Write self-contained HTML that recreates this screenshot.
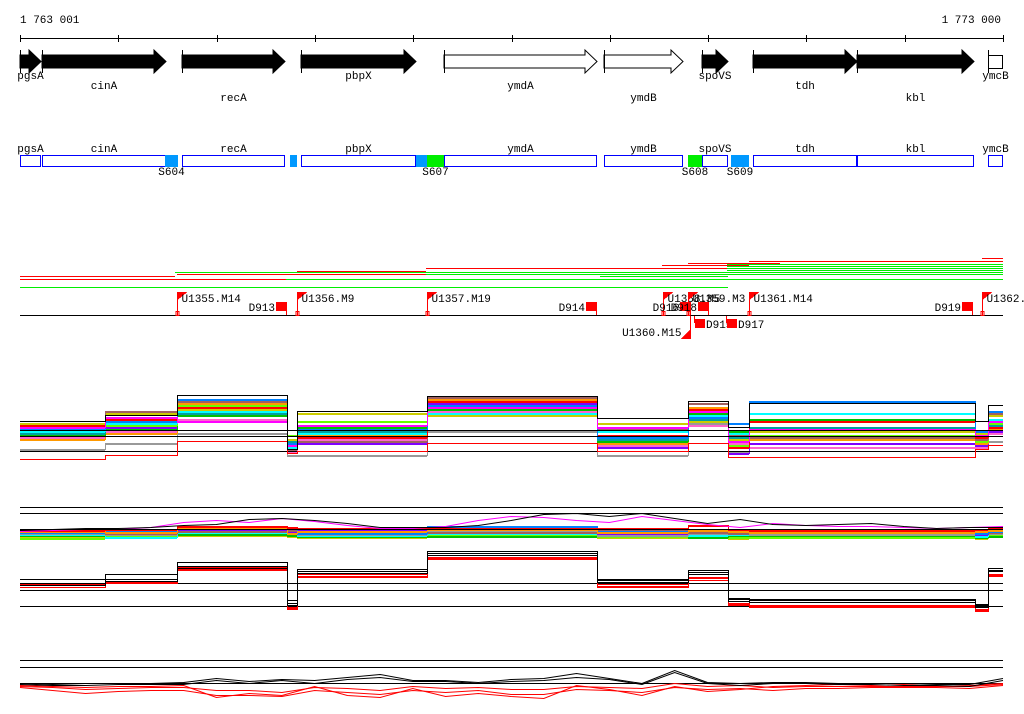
<!DOCTYPE html>
<html><head><meta charset="utf-8"><title>Genome browser</title>
<style>
html,body{margin:0;padding:0;background:#fff;}
svg{display:block;}
text{font-family:"Liberation Mono","DejaVu Sans Mono",monospace;font-size:11px;fill:#000;}
</style></head>
<body>
<svg id="chart" width="1024" height="714" viewBox="0 0 1024 714" shape-rendering="crispEdges">
<text x="20" y="23">1 763 001</text>
<text x="1001" y="23" text-anchor="end">1 773 000</text>
<g id="axis"></g>
<g id="genes"></g>
<g id="genes2"></g>
<g id="tiling"></g>
<g id="markers"></g>
<g id="p1"></g>
<g id="p2"></g>
<g id="p3"></g>
<g id="p4"></g>
</svg>
<script>
const NS="http://www.w3.org/2000/svg";
const X0=20,X1=1003,BP0=1763001,BP1=1773000;
function xs(bp){return X0+(bp-BP0)/(BP1-BP0)*(X1-X0);}
function mk(parent,tag,attrs){const e=document.createElementNS(NS,tag);for(const k in attrs)e.setAttribute(k,attrs[k]);parent.appendChild(e);return e;}

// ---- data ----
const tickPositions=[1763001,1764001,1765001,1766001,1767001,1768001,1769001,1770001,1771001,1772001,1773000];
const geneNames=["pgsA","cinA","recA","pbpX","ymdA","ymdB","spoVS","tdh","kbl","ymcB"];
const geneStarts=[1763001,1763225,1764649,1765859,1767314,1768941,1769938,1770457,1771515,1772848];
const geneEnds=[1763215,1764486,1765697,1767029,1768870,1769745,1770203,1771515,1772705,1773000];
const geneFilled=[1,1,1,1,0,0,1,1,1,0];
const geneLabelRow=[0,1,2,0,1,2,0,1,2,0];
const segNames=["S604","S607","S608","S609"];
const segStarts=[1764476,1767141,1769796,1770233];
const segEnds=[1764608,1767314,1769938,1770416];
const segColors=["#0099ff","#00ee00","#00ee00","#0099ff"];

const markNames=["U1355.M14","U1356.M9","U1357.M19","U1358.M5","U1359.M3","U1361.M14","U1362.M1","U1360.M15"];
const markPos=[1764598,1765819,1767141,1769541,1769796,1770416,1772786,1769816];
const markBelow=[0,0,0,0,0,0,0,1];
const delNames=["D913","D914","D919","D916","D918","D915","D917"];
const delPos=[1765707,1768860,1772685,1769816,1770000,1769857,1770182];
const delBelow=[0,0,0,0,0,1,1];

const segBreaks=[1763001,1763866,1764598,1765717,1765819,1767141,1768870,1769796,1770203,1770416,1772715,1772847,1773000];
const p1Black=[1.5,1.8,2.8,0.1,2.0,2.75,1.65,2.5,1.2,2.4,1.5,2.3];
const p1Red=[-0.4,-0.2,0.5,-0.1,0,0.4,0,0.4,-0.3,-0.3,0.1,0.3];
const p1Gray=[0.1,0.4,0.9,-0.2,-0.2,1.0,-0.2,1.4,0.0,0.2,0.3,0.5];
const p1Magenta=[1.2,1.7,1.5,0.3,1.3,2.2,1.2,2.0,0.5,1.1,0.8,1.5];
const p1Lime=[0.9,1.3,2.3,0.8,1.5,2.5,0.6,1.6,0.3,0.8,0.5,1.4];
const p1Cyan=[1.0,1.4,2.0,0.2,0.9,1.9,1.0,1.8,0.9,1.9,0.6,1.6];
const p1Orange=[0.6,0.9,2.4,0.5,0.8,2.6,0.4,2.2,0.5,0.6,0.4,1.1];
const p1Blue=[1.1,1.5,2.6,0.4,1.1,2.3,0.7,1.7,1.4,2.5,1.0,2.0];
const p1Red2=[1.3,1.6,2.2,0.3,0.7,2.5,0.8,2.1,0.2,1.5,0.7,1.2];
const p1Yellow=[1.4,1.9,2.1,0.6,1.9,1.8,1.4,1.5,0.6,1.0,0.9,1.8];
const p1Brown=[1.2,2.0,2.5,0.1,0.5,2.7,1.1,2.4,0.8,0.7,0.6,1.9];
const p1Green=[0.8,1.1,1.8,0.4,1.2,2.1,0.5,1.9,1.0,1.6,0.5,1.3];
const p1Pink=[0.7,1.0,1.6,0.0,0.6,2.0,0.3,1.3,0.4,0.2,0.2,0.9];
const p1Purple=[1.0,1.2,2.3,0.2,0.4,2.4,0.2,1.8,-0.1,0.4,0.3,1.0];
const p1Teal=[0.9,1.6,1.9,0.5,1.0,2.2,0.6,1.6,0.7,1.2,0.6,1.3];

const fineBreaks=[1763001,1763334,1763667,1764000,1764333,1764666,1764999,1765332,1765665,1765998,1766331,1766664,1766997,1767330,1767663,1767996,1768329,1768662,1768995,1769328,1769661,1769994,1770327,1770660,1770993,1771326,1771659,1771992,1772325,1772658,1773000];
const p2Black=[-0.1,0,0.1,0.1,0.2,0.4,0.5,1.0,1.1,0.9,0.6,0.2,0.2,0.2,0.4,0.9,1.5,1.6,1.3,1.6,1.1,0.6,1.0,0.5,0.4,0.5,0.6,0.3,0.1,0.2,0.2];
const p2Magenta=[-0.2,-0.1,0,0,0.2,0.7,0.9,0.7,1.1,0.8,0.4,0.1,0.1,0.3,0.9,1.3,1.2,0.9,0.7,1.3,0.9,0.5,0.2,0.6,0.4,0.3,0.3,0.2,0.1,0.2,0.3];
const p2Lime=[-0.9,-0.6,-0.4,-0.5,-0.3,-0.6,-0.7,-0.3,-0.8,-0.8,-0.6,-0.5];
const p2Cyan=[-0.5,-0.8,-0.3,-0.2,-0.6,-0.4,-0.5,-0.6,-0.5,-0.4,-0.7,-0.3];
const p2Orange=[-0.2,-0.3,0.1,-0.4,-0.2,0.0,-0.3,-0.1,-0.2,-0.3,-0.2,-0.1];
const p2Blue=[-0.3,-0.2,0.2,0.1,-0.4,0.3,-0.2,0.0,-0.1,-0.2,-0.4,-0.2];
const p2Red=[-0.1,0.0,0.3,0.2,0.1,0.1,0.1,0.4,0.0,-0.1,0.0,0.1];
const p2Gray=[-0.4,-0.5,-0.1,-0.3,-0.5,-0.2,-0.6,-0.4,-0.3,-0.5,-0.3,-0.4];
const p2Yellow=[-0.8,-0.7,-0.6,-0.7,-0.8,-0.5,-0.8,-0.7,-0.9,-0.7,-0.9,-0.6];
const p2Brown=[-0.2,-0.4,-0.2,-0.1,-0.3,-0.3,-0.1,-0.3,-0.4,-0.2,-0.1,-0.3];
const p2Green=[-0.6,-0.5,-0.5,-0.6,-0.7,-0.7,-0.4,-0.8,-0.6,-0.6,-0.8,-0.7];
const p2Purple=[-0.3,-0.1,0.0,-0.2,-0.1,0.2,-0.4,-0.2,-0.3,-0.1,-0.5,0.0];

const p3BlackA=[2.7,3.2,4.4,0.1,3.7,5.5,2.7,3.6,0.7,0.6,-0.1,3.8];
const p3BlackB=[2.3,2.7,4.0,0.3,3.3,5.1,2.4,3.2,0.5,0.4,0.1,3.5];
const p3BlackC=[2.1,2.5,3.8,0.6,3.5,5.3,2.6,3.4,0.8,0.7,0.2,3.6];
const p3RedA=[2.2,2.5,3.9,-0.1,3.2,4.9,2.2,2.9,0.3,0.1,-0.3,3.2];
const p3RedB=[2.1,2.4,3.7,-0.2,3.0,4.8,2.0,2.6,0.1,0.0,-0.4,3.1];
const p3RedC=[1.9,2.3,3.6,-0.3,2.9,4.7,1.9,2.8,0.2,-0.1,-0.5,3.0];

const p4BlackA=[-0.1,-0.2,-0.2,-0.1,-0.1,-0.1,0.3,0,0.3,0,0.4,0.6,0.2,0.2,0,0.2,0.3,0.6,0.4,-0.1,1.1,0,-0.2,0,0,-0.1,-0.1,-0.2,-0.2,-0.3,0.3];
const p4BlackB=[0,-0.1,0,0,0,0.1,0.5,0.2,0.4,0.3,0.6,0.9,0.3,0.3,0.1,0.4,0.5,1.0,0.5,0,1.3,0.1,0,0.1,0.1,0,0,0,-0.1,-0.1,0.5];
const p4RedA=[-0.4,-0.7,-1.0,-0.8,-0.7,-0.7,-1.2,-1.2,-1.3,-0.7,-0.9,-1.1,-0.7,-0.9,-0.7,-1.1,-1.1,-0.6,-0.7,-0.9,-0.4,-0.6,-0.5,-0.7,-0.5,-0.5,-0.4,-0.4,-0.4,-0.5,-0.2];
const p4RedB=[-0.3,-0.4,-0.6,-0.5,-0.4,-0.4,-0.7,-0.7,-0.9,-0.4,-0.5,-0.7,-0.3,-0.5,-0.4,-0.6,-0.6,-0.3,-0.4,-0.5,0,-0.3,-0.2,-0.4,-0.3,-0.3,-0.3,-0.3,-0.3,-0.3,-0.1];
const p4RedC=[-0.2,-0.3,-0.4,-0.3,-0.3,-0.2,-1.4,-1.0,-1.2,-0.3,-1.2,-1.4,-0.5,-1.3,-1.0,-1.3,-1.5,-0.2,-0.6,-1.2,-0.3,-0.8,-0.6,-0.3,-0.2,-0.1,-0.2,-0.1,-0.3,-0.2,0];

// ---- axis ----
const ax=document.getElementById('axis');
const axl=mk(ax,'line',{x1:X0,y1:38.5,x2:X1+1,y2:38.5,stroke:'#000'});


tickPositions.forEach(function(t){
  const l=mk(ax,'line',{x1:Math.round(xs(t))+0.5,y1:35,x2:Math.round(xs(t))+0.5,y2:42,stroke:'#000'});
  
  
});

// ---- genes ----
const gg=document.getElementById('genes');
const labelY=[79,89,101];
geneNames.forEach(function(n,i){
  const a=Math.round(xs(geneStarts[i])),b=Math.round(xs(geneEnds[i]));
  const g=mk(gg,'g',{});
  
  
  const hl=Math.min(12,b-a);
  if(n==="ymcB"){
    mk(g,'rect',{x:a+0.5,y:55.5,width:b-a-1,height:13,fill:'#fff',stroke:'#000'});
  } else {
    const pts=[[a,55],[b-hl,55],[b-hl,50],[b,61.5],[b-hl,73],[b-hl,68],[a,68]].map(p=>p[0]+','+p[1]).join(' ');
    mk(g,'polygon',{points:pts,fill:geneFilled[i]?'#000':'#fff',stroke:'#000','stroke-width':1,'shape-rendering':'auto'});
  }
  mk(g,'line',{x1:a+0.5,y1:50,x2:a+0.5,y2:73,stroke:'#000'});
  const t=mk(g,'text',{x:(a+b)/2,y:labelY[geneLabelRow[i]],'text-anchor':'middle'});
  t.textContent=n;
});

// ---- segment track ----
const g2=document.getElementById('genes2');
geneNames.forEach(function(n,i){
  const a=Math.round(xs(geneStarts[i])),b=Math.round(xs(geneEnds[i]));
  const r=mk(g2,'rect',{x:a+0.5,y:155.5,width:b-a-1,height:11,fill:'#fff',stroke:'#0000ff'});
  
  
  const t=mk(g2,'text',{x:(a+b)/2,y:152,'text-anchor':'middle'});
  t.textContent=n;
  
  
});
const small=mk(g2,'rect',{x:Math.round(xs(1765747)),y:155,width:7,height:12,fill:'#0099ff'});


const s607b=mk(g2,'rect',{x:Math.round(xs(1767029)),y:155,width:11,height:12,fill:'#0099ff'});


segNames.forEach(function(n,i){
  const a=Math.round(xs(segStarts[i])),b=Math.round(xs(segEnds[i]));
  const r=mk(g2,'rect',{x:a,y:155,width:b-a,height:12,fill:segColors[i]});
  
  
  const t=mk(g2,'text',{x:(a+b)/2,y:175,'text-anchor':'middle'});
  t.textContent=n;
});

// ---- tiling lines ----
const tl=document.getElementById('tiling');
const tileY=[276,279,274,271,268,287,279,272,274,276,268,265,263,261,258,264,266,268,270,272];
const tileA=[20,20,177,297,426,20,286,175,426,600,600,662,688,749,982,727,727,727,727,727];
const tileB=[175,286,512,426,749,728,1003,1003,1003,728,728,749,780,1003,1003,1003,1003,1003,1003,1003];
const tileC=['#ff0000','#ff0000','#ff0000','#ff0000','#ff0000','#00ee00','#00ee00','#00ee00','#00ee00','#00ee00','#ff0000','#ff0000','#ff0000','#ff0000','#ff0000','#00ee00','#00ee00','#00ee00','#00ee00','#00ee00'];
tileY.forEach(function(y,i){
  const l=mk(tl,'rect',{x:tileA[i],y:y,width:tileB[i]-tileA[i],height:1,fill:tileC[i]});
  
  
});

// ---- markers ----
const mg=document.getElementById('markers');
const bl=mk(mg,'line',{x1:X0,y1:315.5,x2:X1,y2:315.5,stroke:'#000'});


markNames.forEach(function(n,i){
  const x=Math.round(xs(markPos[i]))+0.5;
  const g=mk(mg,'g',{});
  
  
  if(!markBelow[i]){
    mk(g,'line',{x1:x,y1:292,x2:x,y2:315,stroke:'#f00'});
    mk(g,'polygon',{points:(x)+',292 '+(x+10)+',292 '+(x)+',300',fill:'#f00'});
    mk(g,'rect',{x:x-1.5,y:311.5,width:3,height:4,fill:'none',stroke:'#f00'});
    const t=mk(g,'text',{x:x+4,y:302});t.textContent=n;
  } else {
    mk(g,'line',{x1:x,y1:316,x2:x,y2:339,stroke:'#f00'});
    mk(g,'polygon',{points:(x)+',329 '+(x)+',339 '+(x-10)+',339',fill:'#f00'});
    const t=mk(g,'text',{x:x-9,y:336,'text-anchor':'end'});t.textContent=n;
  }
});
delNames.forEach(function(n,i){
  const x=Math.round(xs(delPos[i]));
  const g=mk(mg,'g',{});
  
  
  if(!delBelow[i]){
    mk(g,'rect',{x:x-10,y:302,width:10,height:9,fill:'#f00'});
    mk(g,'line',{x1:x+0.5,y1:302,x2:x+0.5,y2:315,stroke:'#f00'});
    const t=mk(g,'text',{x:x-11,y:311,'text-anchor':'end'});t.textContent=n;
  } else {
    mk(g,'rect',{x:x+1,y:319,width:10,height:9,fill:'#f00'});
    mk(g,'line',{x1:x+0.5,y1:316,x2:x+0.5,y2:323,stroke:'#f00'});
    const t=mk(g,'text',{x:x+12,y:328});t.textContent=n;
  }
});

// ---- profiles ----
function stepRects(g,breaks,vals,yf,color,name,th){
  const grp=mk(g,'g',{fill:color});
  
  
  let prevY=null;
  for(let i=0;i<vals.length;i++){
    const a=Math.round(xs(breaks[i])),b=Math.round(xs(breaks[i+1])),y=Math.round(yf(vals[i]));
    mk(grp,'rect',{x:a,y:y,width:Math.max(1,b-a),height:th});
    if(prevY!==null && prevY!==y){
      mk(grp,'rect',{x:a,y:Math.min(prevY,y),width:1,height:Math.abs(prevY-y)+1});
    }
    prevY=y;
  }
}
function linePath(breaks,vals,yf){
  return vals.map(function(v,i){return (i===0?'M':'L')+xs(breaks[i]).toFixed(1)+','+(Math.round(yf(v))+0.5);}).join(' ');
}
function hlines(g,ys){
  ys.forEach(function(y){
    const l=mk(g,'rect',{x:X0,y:y,width:X1-X0,height:1,fill:'#000'});
    
    
  });
}
function series(g,d,color,name){
  const p=mk(g,'path',{d:d,fill:'none',stroke:color,'stroke-width':1,'shape-rendering':'auto'});
  
  
}
const p1=document.getElementById('p1');
const y1=v=>451-v*20;
[[p1Gray,'#999999'],[p1Pink,'#ff66cc'],[p1Purple,'#8000ff'],[p1Orange,'#ff9900'],[p1Green,'#00c000'],[p1Lime,'#66ff00'],[p1Teal,'#00a0a0'],[p1Cyan,'#00ffff'],[p1Yellow,'#cccc00'],[p1Brown,'#a06060'],[p1Red2,'#ff0000'],[p1Blue,'#0080ff'],[p1Magenta,'#ff00ff']].forEach(function(s,i){
  stepRects(p1,segBreaks,s[0],y1,s[1],'panel1-series-'+i,2);
});
hlines(p1,[430,436,451]);
stepRects(p1,segBreaks,p1Red,y1,'#ff0000','panel1-red',1);
stepRects(p1,segBreaks,p1Black,y1,'#000000','panel1-black',1);

const p2=document.getElementById('p2');
const y2=v=>529-v*10;
hlines(p2,[507,513]);
[[p2Yellow,'#cccc00'],[p2Lime,'#66ff00'],[p2Green,'#00c000'],[p2Cyan,'#00ffff'],[p2Gray,'#999999'],[p2Purple,'#8000ff'],[p2Brown,'#a06060'],[p2Blue,'#0080ff'],[p2Orange,'#ff9900'],[p2Red,'#ff0000']].forEach(function(s,i){
  stepRects(p2,segBreaks,s[0],y2,s[1],'panel2-series-'+i,2);
});
series(p2,linePath(fineBreaks,p2Magenta,y2),'#ff00ff','panel2-magenta');
series(p2,linePath(fineBreaks,p2Black,y2),'#000000','panel2-black');
hlines(p2,[529]);

const p3=document.getElementById('p3');
const y3=v=>606-v*10;
hlines(p3,[583,590,606]);
[[p3RedC,'#ff0000'],[p3RedB,'#ff0000'],[p3RedA,'#ff0000'],[p3BlackC,'#000000'],[p3BlackB,'#000000'],[p3BlackA,'#000000']].forEach(function(s,i){
  stepRects(p3,segBreaks,s[0],y3,s[1],'panel3-series-'+i,1);
});

const p4=document.getElementById('p4');
const y4=v=>683-v*10;
hlines(p4,[660,667,683]);
[[p4RedC,'#ff0000'],[p4RedA,'#ff0000'],[p4RedB,'#ff0000'],[p4BlackB,'#000000'],[p4BlackA,'#000000']].forEach(function(s,i){
  series(p4,linePath(fineBreaks,s[0],y4),s[1],'panel4-series-'+i);
});
</script>
</body></html>
